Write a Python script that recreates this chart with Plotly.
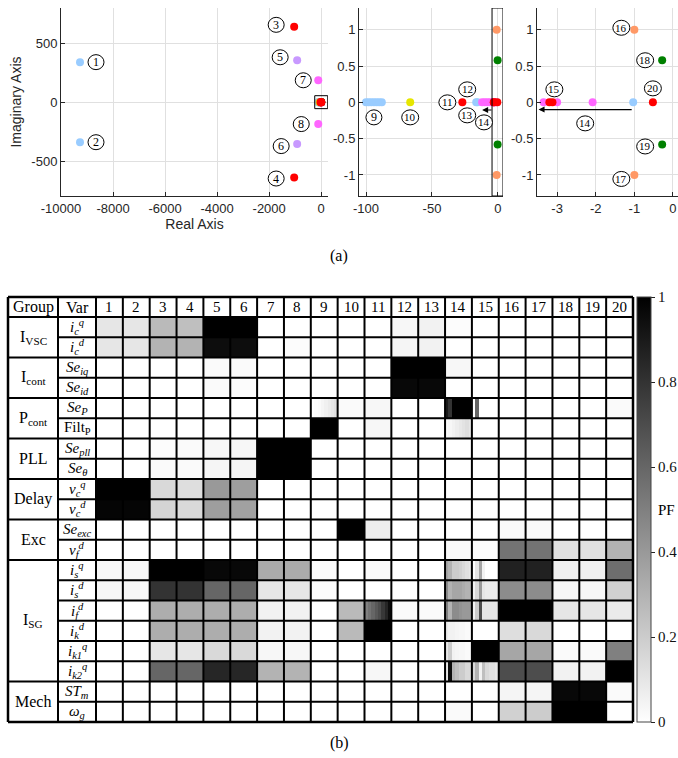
import plotly.graph_objects as go

W, H = 678, 758
def PX(x): return x / W
def PY(y): return 1 - y / H

# ---------------- eigenvalue data ----------------
blue_re = [-9270, -9270, -100, -98, -96, -94, -92, -90, -88, -16.5, -15.5, -1.03]
blue_im = [340, -340, 0, 0, 0, 0, 0, 0, 0, 0, 0, 0]
red_re = [-1040, -1040, -27, -3.2, -3.12, -0.52]
red_im = [640, -640, 0, 0, 0, 0]
lav_re = [-925, -925]
lav_im = [356, -356]
pink_re = [-115, -115, -12, -10, -8, -6, -4, -3.35, -3.0, -2.08]
pink_im = [186, -186, 0, 0, 0, 0, 0, 0, 0, 0]
yellow_re = [-66.5]
yellow_im = [0]
orange_re = [-1.0, -1.0]
orange_im = [1.0, -1.0]
green_re = [-0.28, -0.28]
green_im = [0.58, -0.58]

series = [
    (blue_re, blue_im, "#99ccff"),
    (yellow_re, yellow_im, "#e6e600"),
    (lav_re, lav_im, "#c899ff"),
    (pink_re, pink_im, "#ff66ff"),
    (orange_re, orange_im, "#ff9966"),
    (green_re, green_im, "#008000"),
    (red_re, red_im, "#ff0000"),
]

# tick labels of the pole maps
x1_ticks = [-10000, -8000, -6000, -4000, -2000, 0]
y1_ticks = [-500, 0, 500]
x2_ticks = [-100, -50, 0]
x3_ticks = [-3, -2, -1, 0]
y23_ticks = [-1, -0.5, 0, 0.5, 1]

# mode labels: (subplot, number, anchor_re, anchor_im, dx_px, dy_px)
mode_labels = [
    (1, 1, blue_re[0], blue_im[0], 16, 0), (1, 2, blue_re[1], blue_im[1], 16, 0),
    (1, 3, red_re[0], red_im[0], -18, 2), (1, 4, red_re[1], red_im[1], -18, -1),
    (1, 5, lav_re[0], lav_im[0], -17, 3), (1, 6, lav_re[1], lav_im[1], -16, -2),
    (1, 7, pink_re[0], pink_im[0], -15, 0), (1, 8, pink_re[1], pink_im[1], -17, 0),
    (2, 9, blue_re[5], 0, 0, -15), (2, 10, yellow_re[0], 0, 0, -15),
    (2, 11, red_re[2], 0, -15, 0), (2, 12, blue_re[9], 0, -9, 13),
    (2, 13, blue_re[9], 0, -9, -13), (2, 14, 0, 0, -14, -20),
    (3, 14, blue_re[11], 0, -48, -21), (3, 15, red_re[3], 0, 5, 13),
    (3, 16, orange_re[0], orange_im[0], -13, 2), (3, 17, orange_re[1], orange_im[1], -13, -4),
    (3, 18, green_re[0], green_im[0], -17, 0), (3, 19, green_re[1], green_im[1], -17, -2),
    (3, 20, red_re[5], 0, 0, 14),
]

# ---------------- participation factor data ----------------
modes = [str(i) for i in range(1, 21)]
groups = ["I<sub>VSC</sub>", "I<sub>cont</sub>", "P<sub>cont</sub>", "PLL", "Delay", "Exc",
          "I<sub>SG</sub>", "Mech"]
group_sizes = [2, 2, 2, 2, 2, 2, 6, 2]
var_labels = [
    "<i>i</i><sub><i>c</i></sub><sup><i>q</i></sup>", "<i>i</i><sub><i>c</i></sub><sup><i>d</i></sup>",
    "<i>Se</i><sub><i>iq</i></sub>", "<i>Se</i><sub><i>id</i></sub>",
    "<i>Se</i><sub><i>P</i></sub>", "Filt<sub>P</sub>",
    "<i>Se</i><sub><i>pll</i></sub>", "<i>Se</i><sub><i>θ</i></sub>",
    "<i>v</i><sub><i>c</i></sub><sup><i>q</i></sup>", "<i>v</i><sub><i>c</i></sub><sup><i>d</i></sup>",
    "<i>Se</i><sub><i>exc</i></sub>", "<i>v</i><sub><i>f</i></sub><sup><i>d</i></sup>",
    "<i>i</i><sub><i>s</i></sub><sup><i>q</i></sup>", "<i>i</i><sub><i>s</i></sub><sup><i>d</i></sup>",
    "<i>i</i><sub><i>f</i></sub><sup><i>d</i></sup>", "<i>i</i><sub><i>k</i></sub><sup><i>d</i></sup>",
    "<i>i</i><sub><i>k1</i></sub><sup><i>q</i></sup>", "<i>i</i><sub><i>k2</i></sub><sup><i>q</i></sup>",
    "<i>ST</i><sub><i>m</i></sub>", "<i>ω</i><sub><i>g</i></sub>",
]

pf_icq    = [0.10, 0.10, 0.27, 0.25, 1.00, 1.00, 0, 0, 0, 0, 0, 0.03, 0.05, 0.01, 0, 0, 0, 0, 0, 0]
pf_icd    = [0.10, 0.10, 0.30, 0.30, 0.95, 0.95, 0, 0.01, 0, 0, 0, 0.04, 0.05, 0, 0, 0, 0, 0, 0, 0]
pf_seiq   = [0, 0, 0, 0, 0.02, 0.02, 0, 0, 0, 0, 0, 1.00, 1.00, 0.03, 0, 0, 0, 0, 0, 0]
pf_seid   = [0, 0, 0, 0, 0.02, 0.01, 0, 0, 0, 0, 0, 0.97, 0.97, 0, 0, 0, 0, 0, 0, 0]
pf_sep    = [0, 0, 0, 0, 0, 0, 0, 0, 0.06, 0.02, 0.03, 0, 0, 0.95, 0.08, 0, 0, 0, 0, 0.02]
pf_filtp  = [0, 0, 0, 0, 0, 0, 0, 0, 1.00, 0, 0.03, 0, 0, 0.08, 0, 0, 0, 0, 0, 0]
pf_sepll  = [0, 0, 0.01, 0.02, 0.03, 0.03, 1, 1, 0, 0, 0, 0, 0, 0, 0, 0, 0, 0, 0, 0]
pf_seth   = [0, 0, 0.02, 0.02, 0.04, 0.04, 1, 1, 0, 0, 0, 0, 0, 0, 0, 0, 0, 0, 0, 0]
pf_vcq    = [1.00, 1.00, 0.15, 0.13, 0.40, 0.38, 0, 0, 0, 0, 0, 0, 0, 0, 0, 0, 0, 0, 0, 0]
pf_vcd    = [0.98, 0.98, 0.17, 0.15, 0.38, 0.37, 0, 0, 0, 0, 0, 0, 0, 0, 0, 0, 0, 0, 0, 0]
pf_seexc  = [0, 0, 0, 0, 0, 0, 0, 0, 0, 1.00, 0.07, 0, 0, 0, 0, 0.02, 0.02, 0, 0, 0]
pf_vfd    = [0, 0, 0, 0, 0, 0, 0, 0, 0, 0, 0, 0, 0, 0.02, 0.01, 0.55, 0.55, 0.12, 0.12, 0.30]
pf_isq    = [0.03, 0.03, 1.00, 1.00, 0.97, 0.97, 0.33, 0.33, 0.02, 0, 0.02, 0, 0, 0.20, 0.08, 0.87, 0.87, 0.06, 0.06, 0.57]
pf_isd    = [0.03, 0.03, 0.80, 0.80, 0.60, 0.60, 0.10, 0.10, 0.01, 0, 0, 0, 0, 0.33, 0.10, 0.45, 0.45, 0.03, 0.03, 0.18]
pf_ifd    = [0, 0, 0.32, 0.32, 0.32, 0.32, 0.05, 0.05, 0, 0.27, 0.70, 0.02, 0.02, 0.40, 0.15, 1.00, 1.00, 0.10, 0.10, 0.08]
pf_ikd    = [0, 0, 0.32, 0.32, 0.32, 0.32, 0.05, 0.05, 0, 0.27, 1.00, 0, 0, 0.04, 0, 0.13, 0.15, 0, 0, 0]
pf_ik1q   = [0, 0, 0.10, 0.10, 0.15, 0.15, 0.03, 0.03, 0, 0, 0, 0, 0, 0.05, 1.00, 0.35, 0.35, 0.02, 0.02, 0.50]
pf_ik2q   = [0, 0, 0.60, 0.60, 0.85, 0.85, 0.30, 0.30, 0, 0, 0.03, 0, 0, 0.25, 0.15, 0.70, 0.70, 0.05, 0.05, 1.00]
pf_stm    = [0, 0, 0, 0, 0, 0, 0, 0, 0, 0, 0, 0, 0, 0, 0, 0.04, 0.04, 0.97, 0.97, 0.02]
pf_omg    = [0, 0, 0, 0, 0, 0, 0, 0, 0, 0, 0, 0, 0, 0.02, 0, 0.18, 0.20, 1.00, 1.00, 0]

pf_rows = [pf_icq, pf_icd, pf_seiq, pf_seid, pf_sep, pf_filtp, pf_sepll, pf_seth, pf_vcq, pf_vcd,
           pf_seexc, pf_vfd, pf_isq, pf_isd, pf_ifd, pf_ikd, pf_ik1q, pf_ik2q, pf_stm, pf_omg]

# finer structure inside a few cells (row index, mode, 8 sub-values left to right)
pf_detail = [
    (4, 9,  [0, 0.01, 0.02, 0.04, 0.06, 0.08, 0.10, 0.12]),
    (4, 14, [0.90, 0.80, 1, 1, 1, 1, 1, 1]),
    (4, 15, [0, 0.60, 0, 0, 0, 0, 0, 0]),
    (5, 14, [0.02, 0.03, 0.05, 0.07, 0.09, 0.11, 0.13, 0.10]),
    (12, 14, [0.35, 0.30, 0.20, 0.20, 0.18, 0.15, 0.12, 0.10]),
    (12, 15, [0, 0.10, 0.35, 0.05, 0, 0, 0, 0]),
    (13, 14, [0.45, 0.30, 0.35, 0.35, 0.35, 0.32, 0.30, 0.30]),
    (13, 15, [0.05, 0.15, 0.40, 0.10, 0.08, 0.08, 0.08, 0.08]),
    (14, 11, [0.50, 0.55, 0.60, 0.65, 0.70, 0.78, 0.85, 0.95]),
    (14, 14, [0.50, 0.30, 0.45, 0.45, 0.42, 0.40, 0.40, 0.40]),
    (14, 15, [0.05, 0.20, 0.70, 0.10, 0.10, 0.10, 0.10, 0.10]),
    (15, 14, [0.08, 0.05, 0.05, 0.04, 0.03, 0.03, 0.02, 0.02]),
    (16, 14, [0.10, 0.20, 0.05, 0.04, 0.03, 0.03, 0.02, 0.02]),
    (17, 14, [0.10, 0.95, 0.30, 0.25, 0.20, 0.20, 0.15, 0.15]),
    (17, 15, [0.15, 0.30, 0.05, 0.25, 0.15, 0.12, 0.12, 0.10]),
]

cb_ticks = [0, 0.2, 0.4, 0.6, 0.8, 1]

# ---------------- figure ----------------
fig = go.Figure()
AXC = "#262626"
GRID = "#e0e0e0"
SANS = "Liberation Sans"
SERIF = "Liberation Serif"

for k in (1, 2, 3):
    for re_, im_, col in series:
        fig.add_trace(go.Scatter(x=re_, y=im_, mode="markers", xaxis="x%d" % k, yaxis="y%d" % k,
                                 marker=dict(color=col, size=8, line=dict(width=0)),
                                 showlegend=False, hoverinfo="skip", cliponaxis=True))

# heatmap
fig.add_trace(go.Heatmap(z=pf_rows, x=list(range(1, 21)), y=list(range(1, 21)),
                         xaxis="x4", yaxis="y4", zmin=0, zmax=1,
                         colorscale=[[0, "#ffffff"], [1, "#000000"]], hoverinfo="skip",
                         colorbar=dict(x=PX(637), xanchor="left", xref="paper",
                                       y=PY(297), yanchor="top", len=(722 - 297) / H, lenmode="fraction",
                                       thickness=14, thicknessmode="pixels", xpad=0, ypad=0,
                                       outlinewidth=1, outlinecolor="#444",
                                       tickvals=cb_ticks, ticktext=[("%g" % v) for v in cb_ticks],
                                       ticks="outside", ticklen=4, tickcolor="#222",
                                       tickfont=dict(family=SERIF, size=15, color="#111"))))

# detail overlay
NS = 8
detail_cols = sorted(set(c for _, c, _ in pf_detail))
c_lo, c_hi = min(detail_cols), max(detail_cols)
xs = []
for c in range(c_lo, c_hi + 1):
    for s in range(NS):
        xs.append(c - 0.5 + (s + 0.5) / NS)
zd = [[None] * len(xs) for _ in range(20)]
for r, c, vals in pf_detail:
    for s, v in enumerate(vals):
        zd[r][(c - c_lo) * NS + s] = v
fig.add_trace(go.Heatmap(z=zd, x=xs, y=list(range(1, 21)), xaxis="x4", yaxis="y4", zmin=0, zmax=1,
                         colorscale=[[0, "#ffffff"], [1, "#000000"]], showscale=False,
                         hoverinfo="skip"))

def fmt(v):
    return ("%g" % v).replace("−", "-")

def sc_axis(dom_px, rng, tickvals, title=None):
    d = dict(domain=dom_px, range=rng, showline=True, linecolor=AXC, linewidth=1,
             ticks="inside", ticklen=4, tickcolor=AXC, showgrid=True, gridcolor=GRID,
             gridwidth=1, zeroline=False, tickfont=dict(family=SANS, size=13, color=AXC),
             automargin=False, mirror=False, fixedrange=True,
             tickvals=tickvals, ticktext=[fmt(v) for v in tickvals])
    if title:
        d["title"] = dict(text=title, font=dict(family=SANS, size=14, color=AXC), standoff=4)
    return d

ydom = [PY(196), PY(8)]
layout = dict(
    width=W, height=H, margin=dict(l=0, r=0, t=0, b=0), autosize=False,
    paper_bgcolor="white", plot_bgcolor="white", showlegend=False,
    xaxis=sc_axis([PX(61), PX(328)], [-10000, 260], x1_ticks, title="Real Axis"),
    yaxis=sc_axis(ydom, [-797, 800], y1_ticks, title="Imaginary Axis"),
    xaxis2=sc_axis([PX(359), PX(503)], [-105.3, 3.8], x2_ticks),
    yaxis2=sc_axis(ydom, [-1.29, 1.3], y23_ticks),
    xaxis3=sc_axis([PX(537), 1.0], [-3.52, 0.13], x3_ticks),
    yaxis3=sc_axis(ydom, [-1.29, 1.3], y23_ticks),
    xaxis4=dict(domain=[PX(96), PX(633)], range=[0.5, 20.5], visible=False, fixedrange=True),
    yaxis4=dict(domain=[PY(722), PY(317)], range=[20.5, 0.5], visible=False, fixedrange=True),
)
layout["yaxis"]["title"]["standoff"] = 6
layout["xaxis2"]["anchor"] = "y2"; layout["yaxis2"]["anchor"] = "x2"
layout["xaxis3"]["anchor"] = "y3"; layout["yaxis3"]["anchor"] = "x3"
layout["xaxis4"]["anchor"] = "y4"; layout["yaxis4"]["anchor"] = "x4"
fig.update_layout(**layout)

shapes = []
annotations = []

# boxes in the pole maps
shapes.append(dict(type="rect", xref="x", yref="y", x0=-250, x1=250, y0=-55, y1=55,
                   line=dict(color="black", width=1), layer="above"))
shapes.append(dict(type="rect", xref="x2", yref="y2", x0=-4.5, x1=3.8, y0=-1.29, y1=1.3,
                   line=dict(color="black", width=1), layer="above"))

# trajectory arrows of mode 14
annotations.append(dict(xref="x2", yref="y2", axref="x2", ayref="y2", x=-12, y=-0.105, ax=-3.8, ay=-0.105,
                        text="", showarrow=True, arrowhead=2, arrowsize=1, arrowwidth=1.2, arrowcolor="black"))
annotations.append(dict(xref="x3", yref="y3", axref="x3", ayref="y3", x=-3.48, y=-0.1, ax=-1.03, ay=-0.1,
                        text="", showarrow=True, arrowhead=2, arrowsize=1, arrowwidth=1.2, arrowcolor="black"))

# circled mode numbers
for sp, num, ax_, ay_, dx, dy in mode_labels:
    xr = "x" if sp == 1 else "x%d" % sp
    yr = "y" if sp == 1 else "y%d" % sp
    rx, ry = (8, 7.5) if num < 10 else (8.5, 7.5)
    shapes.append(dict(type="circle", xref=xr, yref=yr, xsizemode="pixel", ysizemode="pixel",
                       xanchor=ax_, yanchor=ay_, x0=dx - rx, x1=dx + rx, y0=dy - ry, y1=dy + ry,
                       line=dict(color="black", width=1), fillcolor="white", layer="above"))
    annotations.append(dict(xref=xr, yref=yr, x=ax_, y=ay_, xshift=dx, yshift=dy, text=str(num),
                            showarrow=False, font=dict(family=SERIF, size=12 if num < 10 else 11, color="black"),
                            xanchor="center", yanchor="middle"))

# ---------- table frame ----------
X_L, X_G, X_V, X_R = 8, 58, 96, 633
Y_T, Y_HD, Y_B = 297, 317, 722
ncol, nrow = len(modes), len(var_labels)
cw = (X_R - X_V) / ncol
rh = (Y_B - Y_HD) / nrow
LW = 2

def hline(x0, x1, y, w=LW):
    shapes.append(dict(type="line", xref="paper", yref="paper", x0=PX(x0), x1=PX(x1), y0=PY(y), y1=PY(y),
                       line=dict(color="black", width=w), layer="above"))

def vline(x, y0, y1, w=LW):
    shapes.append(dict(type="line", xref="paper", yref="paper", x0=PX(x), x1=PX(x), y0=PY(y0), y1=PY(y1),
                       line=dict(color="black", width=w), layer="above"))

hline(X_L, X_R, Y_T, 2.5)
hline(X_L, X_R, Y_HD)
hline(X_L, X_R, Y_B, 2.5)
bounds = []
acc = 0
for g in group_sizes[:-1]:
    acc += g
    bounds.append(acc)
for r in range(1, nrow):
    y = Y_HD + r * rh
    hline(X_L if r in bounds else X_G, X_R, y)
vline(X_L, Y_T, Y_B, 2.5)
vline(X_G, Y_T, Y_B)
vline(X_V, Y_T, Y_B)
for c in range(1, ncol):
    vline(X_V + c * cw, Y_T, Y_B)
vline(X_R, Y_T, Y_B, 2.5)

def ptext(x, y, t, size=16, xanchor="center"):
    annotations.append(dict(xref="paper", yref="paper", x=PX(x), y=PY(y), text=t, showarrow=False,
                            xanchor=xanchor, yanchor="middle", font=dict(family=SERIF, size=size, color="black")))

ptext((X_L + X_G) / 2, (Y_T + Y_HD) / 2, "Group", 16)
ptext((X_G + X_V) / 2, (Y_T + Y_HD) / 2, "Var", 16)
for c, m in enumerate(modes):
    ptext(X_V + (c + 0.5) * cw, (Y_T + Y_HD) / 2, m, 15)
start = 0
for gname, gs in zip(groups, group_sizes):
    yc = Y_HD + (start + gs / 2) * rh
    ptext((X_L + X_G) / 2, yc, gname, 16)
    start += gs
for r, vl in enumerate(var_labels):
    ptext((X_G + X_V) / 2, Y_HD + (r + 0.5) * rh, vl, 15)

# colorbar title (horizontal)
ptext(677, 510, "PF", 15, xanchor="right")

# panel captions
ptext(339, 256, "(a)", 16)
ptext(339, 743, "(b)", 16)

fig.update_layout(shapes=shapes, annotations=annotations)
fig.write_html("out.html")
